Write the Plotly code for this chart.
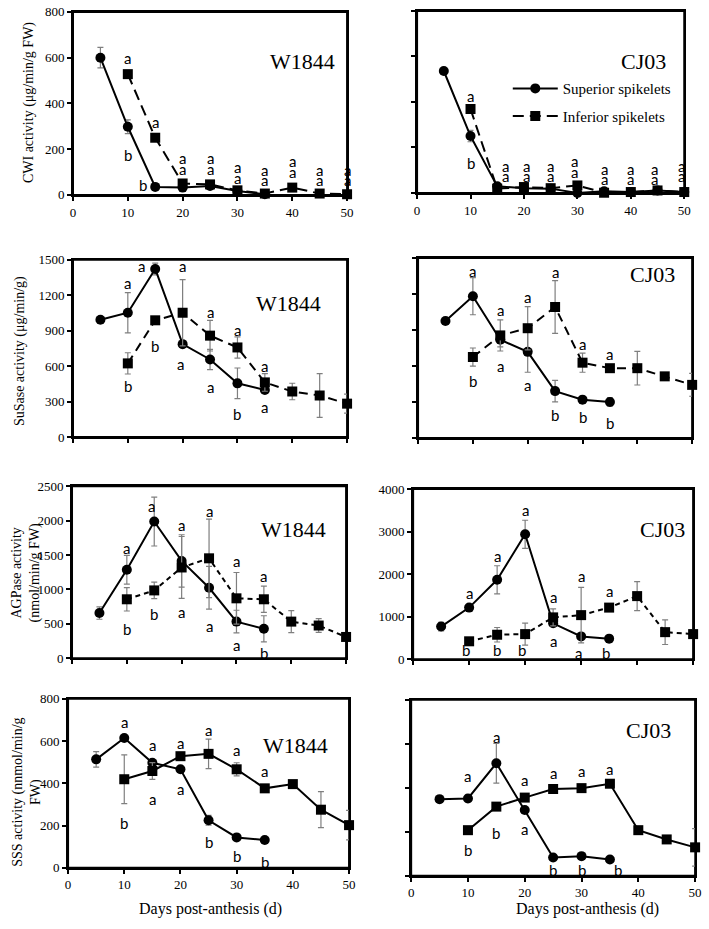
import plotly.graph_objects as go

W, H = 709, 929

days_sup = [5, 10, 15, 20, 25, 30, 35]
days_inf = [10, 15, 20, 25, 30, 35, 40, 45, 50]
days_all = [5, 10, 15, 20, 25, 30, 35, 40, 45, 50]

# CWI activity
cwi_w_sup = [600, 298, 35, 32, 39, 17, 3]
cwi_w_sup_err = [45, 30, 0, 0, 0, 0, 0]
cwi_w_inf = [528, 250, 50, 46, 20, 6, 32, 6, 3]
cwi_w_inf_err = [0, 0, 0, 0, 0, 0, 0, 0, 0]
cwi_c_sup = [536, 250, 29, 21, 19, 0, 7, 4, 11, 4]
cwi_c_sup_err = [10, 25, 0, 0, 0, 0, 0, 0, 0, 0]
cwi_c_inf = [369, 19, 26, 21, 33, 1, 4, 11, 4]
cwi_c_inf_err = [15, 0, 0, 0, 0, 0, 0, 0, 0]

# SuSase activity
sus_w_sup = [993, 1052, 1423, 786, 656, 454, 398]
sus_w_sup_err = [0, 170, 50, 0, 85, 130, 0]
sus_w_inf = [623, 988, 1052, 858, 758, 462, 385, 351, 282]
sus_w_inf_err = [90, 0, 280, 130, 90, 75, 70, 185, 80]
sus_c_sup = [974, 1181, 818, 717, 390, 319, 300]
sus_c_sup_err = [25, 155, 60, 170, 90, 20, 35]
sus_c_inf = [674, 854, 914, 1091, 627, 581, 581, 513, 442]
sus_c_inf_err = [75, 130, 180, 220, 80, 0, 140, 0, 95]

# AGPase activity
agp_w_sup = [657, 1286, 1986, 1414, 1024, 533, 428]
agp_w_sup_err = [90, 210, 355, 380, 310, 165, 190]
agp_w_inf = [857, 986, 1319, 1452, 871, 857, 533, 476, 310]
agp_w_inf_err = [170, 120, 450, 570, 375, 190, 160, 100, 0]
agp_c_sup = [769, 1215, 1869, 2938, 846, 538, 485]
agp_c_sup_err = [100, 0, 330, 330, 0, 0, 0]
agp_c_inf = [423, 577, 592, 985, 1038, 1215, 1485, 638, 592]
agp_c_inf_err = [0, 170, 260, 200, 650, 0, 340, 290, 100]

# SSS activity
sss_w_sup = [513, 614, 497, 466, 225, 144, 132]
sss_w_sup_err = [37, 0, 15, 0, 23, 0, 0]
sss_w_inf = [419, 458, 528, 539, 466, 376, 396, 275, 202]
sss_w_inf_err = [115, 40, 0, 70, 31, 0, 0, 85, 70]
sss_c_sup = [348, 351, 511, 299, 83, 89, 74]
sss_c_sup_err = [0, 15, 90, 0, 0, 0, 0]
sss_c_inf = [207, 314, 355, 394, 398, 418, 207, 165, 129]
sss_c_inf_err = [0, 0, 15, 15, 0, 0, 0, 0, 85]

# significance letters: (day, y, letter)
let_cwi_w = [(10, 600, "a"), (10, 176, "b"), (15, 319, "a"), (12.8, 42, "b"),
             (20, 161, "a"), (20, 115, "a"), (25, 161, "a"), (25, 115, "a"),
             (30, 121, "a"), (30, 75, "a"), (35, 111, "a"), (35, 65, "a"),
             (40, 147, "a"), (40, 100, "a"), (45, 111, "a"), (45, 65, "a"),
             (50, 111, "a"), (50, 65, "a")]
let_cwi_c = [(10, 426, "a"), (10, 133, "b"), (16.5, 119, "a"), (16.5, 76, "a"),
             (20.5, 119, "a"), (20.5, 76, "a"), (25, 119, "a"), (25, 76, "a"),
             (29.5, 140, "a"), (29.5, 93, "a"), (35, 104, "a"), (35, 61, "a"),
             (40, 104, "a"), (40, 61, "a"), (44.5, 104, "a"), (44.5, 61, "a"),
             (49.5, 119, "a"), (49.5, 76, "a")]
let_sus_w = [(10, 1301, "a"), (10, 435, "b"), (12.5, 1450, "a"), (15, 767, "b"),
             (20, 1445, "a"), (19.7, 614, "a"), (25, 1057, "a"), (25, 426, "a"),
             (30, 905, "a"), (30, 191, "b"), (35, 600, "a"), (35, 255, "a")]
let_sus_c = [(10, 1391, "a"), (10, 477, "b"), (15, 1064, "a"), (15, 600, "a"),
             (20, 1173, "a"), (20, 445, "a"), (25, 1383, "a"), (25, 191, "b"),
             (30, 783, "a"), (30, 172, "b"), (35, 701, "a"), (35, 128, "b")]
let_agp_w = [(10, 1595, "a"), (10, 429, "b"), (14.5, 2214, "a"), (15, 643, "b"),
             (20, 1938, "a"), (20, 667, "a"), (25, 2143, "a"), (25, 476, "a"),
             (30, 1414, "a"), (30, 200, "a"), (35, 1190, "a"), (35, 81, "b")]
let_agp_c = [(10, 1562, "a"), (9.5, 215, "b"), (15, 2423, "a"), (15, 215, "b"),
             (20, 3500, "a"), (19.5, 215, "b"), (25, 1462, "a"), (25, 438, "a"),
             (30, 1962, "a"), (29.5, 154, "a"), (35, 1600, "a"), (34.5, 154, "b")]
let_sss_w = [(10, 691, "a"), (10, 210, "b"), (15, 582, "a"), (15, 326, "a"),
             (20, 590, "a"), (20, 373, "a"), (25, 652, "a"), (25, 124, "b"),
             (30, 559, "a"), (30, 57, "b"), (35, 458, "a"), (35, 26, "b")]
let_sss_c = [(10, 452, "a"), (10, 115, "b"), (15, 630, "a"), (15, 192, "b"),
             (20, 437, "a"), (20, 214, "a"), (25, 467, "a"), (25, 28, "b"),
             (30, 477, "a"), (30, 28, "b"), (35, 485, "a"), (36.5, 28, "b")]

# panel boxes in pixels: x0, x1, y0(top), y1(bottom)
boxes = [
    (71, 349, 5, 191), (420, 691, 4, 189),
    (71, 349, 257, 437), (421, 699, 255, 438),
    (70, 348, 487, 662), (416, 700, 490, 663),
    (66, 351, 703, 875), (414, 702, 704, 883),
]
# cultivar label: right edge, vertical centre (pixels)
label_pos = [(339, 55), (675, 55), (325, 301), (684, 272),
             (330, 531), (694, 531), (332, 751), (680, 735)]

panels = [
    dict(sup=(days_sup, cwi_w_sup, cwi_w_sup_err), inf=(days_inf, cwi_w_inf, cwi_w_inf_err),
         ymax=800, dtick=200, ylabels=True, xlabels=True, dash="11px,6px", name="W1844", letters=let_cwi_w),
    dict(sup=(days_all, cwi_c_sup, cwi_c_sup_err), inf=(days_inf, cwi_c_inf, cwi_c_inf_err),
         ymax=800, dtick=200, ylabels=False, xlabels=True, dash="11px,6px", name="CJ03", letters=let_cwi_c),
    dict(sup=(days_sup, sus_w_sup, sus_w_sup_err), inf=(days_inf, sus_w_inf, sus_w_inf_err),
         ymax=1500, dtick=300, ylabels=True, xlabels=False, dash="9px,6px", name="W1844", letters=let_sus_w),
    dict(sup=(days_sup, sus_c_sup, sus_c_sup_err), inf=(days_inf, sus_c_inf, sus_c_inf_err),
         ymax=1500, dtick=300, ylabels=False, xlabels=False, dash="9px,6px", name="CJ03", letters=let_sus_c),
    dict(sup=(days_sup, agp_w_sup, agp_w_sup_err), inf=(days_inf, agp_w_inf, agp_w_inf_err),
         ymax=2500, dtick=500, ylabels=True, xlabels=False, dash="5px,4px", name="W1844", letters=let_agp_w),
    dict(sup=(days_sup, agp_c_sup, agp_c_sup_err), inf=(days_inf, agp_c_inf, agp_c_inf_err),
         ymax=4000, dtick=1000, ylabels=True, xlabels=False, dash="5px,4px", name="CJ03", letters=let_agp_c),
    dict(sup=(days_sup, sss_w_sup, sss_w_sup_err), inf=(days_inf, sss_w_inf, sss_w_inf_err),
         ymax=800, dtick=200, ylabels=True, xlabels=True, dash="solid", name="W1844", letters=let_sss_w),
    dict(sup=(days_sup, sss_c_sup, sss_c_sup_err), inf=(days_inf, sss_c_inf, sss_c_inf_err),
         ymax=800, dtick=200, ylabels=False, xlabels=True, dash="solid", name="CJ03", letters=let_sss_c),
]

serif = "Liberation Serif"
letter_font = dict(family="Lato", size=15, color="black")

fig = go.Figure()
annotations = []
shapes = []
layout = {}

for i, (p, b) in enumerate(zip(panels, boxes)):
    n = i + 1
    xa = "x" if n == 1 else f"x{n}"
    ya = "y" if n == 1 else f"y{n}"
    xkey = "xaxis" if n == 1 else f"xaxis{n}"
    ykey = "yaxis" if n == 1 else f"yaxis{n}"
    x0, x1, yt, yb = b
    axis_style = dict(ticks="outside", ticklen=4, tickcolor="black", tickwidth=1.5,
                      showline=True, mirror=True, linecolor="black", linewidth=2,
                      showgrid=False, zeroline=False,
                      tickfont=dict(family=serif, size=13, color="black"))
    layout[xkey] = dict(domain=[x0 / W, x1 / W], anchor=ya, range=[0, 50], dtick=10,
                        showticklabels=p["xlabels"], **axis_style)
    layout[ykey] = dict(domain=[1 - yb / H, 1 - yt / H], anchor=xa, range=[0, p["ymax"]],
                        dtick=p["dtick"], showticklabels=p["ylabels"], **axis_style)

    # frame around each panel
    shapes.append(dict(type="rect", xref=f"{xa} domain", yref=f"{ya} domain",
                       x0=0, x1=1, y0=0, y1=1, line=dict(color="black", width=2),
                       layer="below"))

    for key, sym, dash, label, lg in [("sup", "circle", "solid", "Superior spikelets", "legend"),
                                      ("inf", "square", p["dash"], "Inferior spikelets", "legend2")]:
        xs, ys, es = p[key]
        fig.add_trace(go.Scatter(
            x=xs, y=ys, xaxis=xa, yaxis=ya, mode="lines+markers", name=label,
            showlegend=(n == 2), legend=lg, cliponaxis=False,
            line=dict(color="black", width=2, dash=dash),
            marker=dict(symbol=sym, size=10, color="black"),
            error_y=dict(type="data", array=es, color="#7f7f7f", thickness=1.2, width=3),
        ))

    for d, yv, t in p["letters"]:
        annotations.append(dict(x=d, y=yv, xref=xa, yref=ya, text=t, showarrow=False,
                                font=letter_font))

    lx, ly = label_pos[i]
    annotations.append(dict(x=lx / W, y=1 - ly / H, xref="paper", yref="paper",
                            text=p["name"], showarrow=False, xanchor="right", yanchor="middle",
                            font=dict(family=serif, size=22, color="black")))

ytitles = [
    ("CWI activity (μg/min/g FW)", 27, 97),
    ("SuSase activity (μg/min/g)", 18, 350),
    ("AGPase activity<br>(nmol/min/g FW)", 23, 575),
    ("SSS activity (nnmol/min/g<br>FW)", 24, 798),
]
for t, px, py in ytitles:
    annotations.append(dict(x=px / W, y=1 - py / H, xref="paper", yref="paper", text=t,
                            textangle=-90, showarrow=False, xanchor="center", yanchor="middle",
                            font=dict(family=serif, size=14, color="black")))

for px, py in [(210, 917), (593, 917)]:
    annotations.append(dict(x=px / W, y=1 - py / H, xref="paper", yref="paper",
                            text="Days post-anthesis (d)", showarrow=False,
                            xanchor="center", yanchor="middle",
                            font=dict(family=serif, size=16, color="black")))

legend_style = dict(xanchor="left", yanchor="middle", bgcolor="rgba(0,0,0,0)",
                    itemwidth=45, font=dict(family=serif, size=15, color="black"))

fig.update_layout(
    width=W, height=H,
    margin=dict(l=0, r=0, t=0, b=0),
    plot_bgcolor="white", paper_bgcolor="white",
    annotations=annotations,
    shapes=shapes,
    legend=dict(x=512 / W, y=1 - 83 / H, **legend_style),
    legend2=dict(x=512 / W, y=1 - 111 / H, **legend_style),
    **layout,
)

fig.write_html("out.html", config={"displayModeBar": False},
               post_script="document.body.style.margin='0px';")
